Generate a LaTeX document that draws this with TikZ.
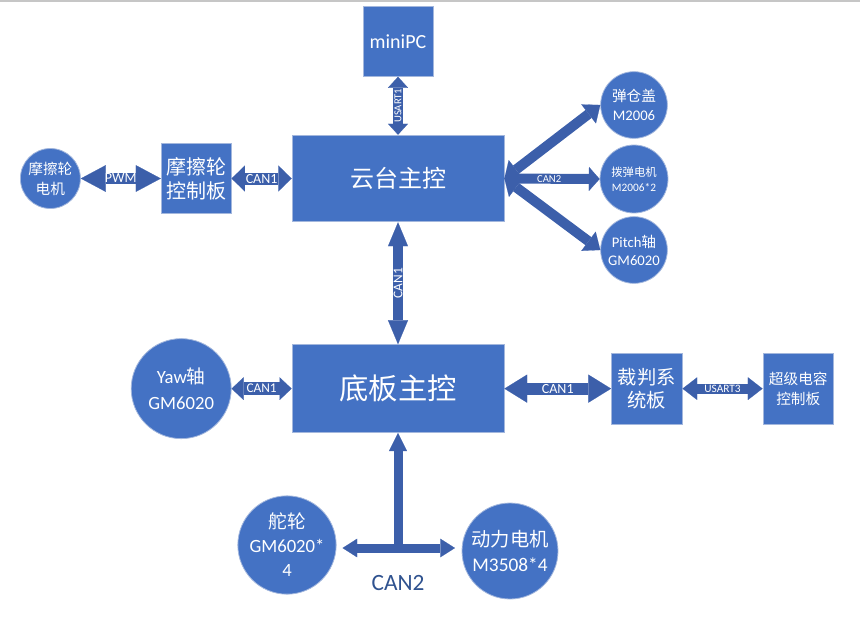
\documentclass[tikz,border=0pt]{standalone}
\usepackage{fontspec}
\setmainfont{Carlito}
\newfontfamily\cjk{Noto Sans CJK SC}
\usetikzlibrary{positioning,arrows.meta}
\definecolor{boxblue}{HTML}{4472C4}
\definecolor{boxedge}{HTML}{A3B7DD}
\definecolor{linkblue}{HTML}{3C5FAA}
\definecolor{labelblue}{HTML}{2F528F}

\begin{document}
\begin{tikzpicture}[x=0.75pt, y=-0.75pt,
  every node/.style={text=white, inner sep=0pt},
  blockbox/.style={rectangle, fill=boxblue, draw=boxedge, line width=0.6pt, align=center},
  motor/.style={circle, fill=boxblue, draw=boxedge, line width=0.6pt, align=center},
  link/.style n args={3}{draw=linkblue, line width=#1,
    arrows={Triangle[width=#2,length=#3,line width=0.1pt]-Triangle[width=#2,length=#3,line width=0.1pt]}},
  tag/.style={font=\fontsize{#1}{#1}\selectfont, text=white}]

    \useasboundingbox (0,0) rectangle (860,619);
    \draw[gray!45, line width=1.5pt] (0,1) -- (860,1);

    % Boards
    \node[blockbox, minimum width=159pt, minimum height=65pt, font=\cjk\fontsize{18}{18}\selectfont] (gimbal) at (398,178.5) {云台主控};
    \node[blockbox, minimum size=52.5pt, above=43.5pt of gimbal, font=\fontsize{15}{15}\selectfont] (minipc) {miniPC};
    \node[blockbox, minimum size=52.5pt, left=45pt of gimbal, font=\cjk\fontsize{15}{18}\selectfont] (fricboard) {摩擦轮\\控制板};
    \node[blockbox, minimum width=159pt, minimum height=66pt, below=91.5pt of gimbal, font=\cjk\fontsize{22}{22}\selectfont] (chassis) {底板主控};
    \node[blockbox, minimum size=53pt, right=80pt of chassis, font=\cjk\fontsize{14.5}{17}\selectfont] (referee) {裁判系\\统板};
    \node[blockbox, minimum size=53pt, right=60pt of referee, font=\cjk\fontsize{11}{15}\selectfont] (supercap) {超级电容\\控制板};

    % Motors
    \node[motor, minimum size=45pt, left=60pt of fricboard, font=\cjk\fontsize{11}{15}\selectfont] (fricmotor) {摩擦轮\\电机};
    \node[motor, minimum size=75pt, left=45pt of chassis, font=\fontsize{14}{19}\selectfont] (yaw) {Yaw{\cjk 轴}\\GM6020};
    \node[motor, minimum size=50pt, font=\fontsize{11}{14}\selectfont] (magazine) at (634,105) {{\cjk 弹仓盖}\\M2006};
    \node[motor, minimum size=51pt, font=\fontsize{8.5}{11}\selectfont] (dial) at (634,179) {{\cjk 拨弹电机}\\M2006*2};
    \node[motor, minimum size=50pt, font=\fontsize{11}{13.5}\selectfont] (pitch) at (634,250) {Pitch{\cjk 轴}\\GM6020};
    \node[motor, minimum size=73.5pt, font=\fontsize{14}{18}\selectfont] (steer) at (287,545) {{\cjk 舵轮}\\GM6020*\\4};
    \node[motor, minimum size=72pt, font=\fontsize{14.5}{19}\selectfont] (drive) at (510,551) {{\cjk 动力电机}\\M3508*4};

    \coordinate (hub) at (398,548);
    \node[text=labelblue, font=\fontsize{17.5}{17.5}\selectfont] (can2) at (398,583) {CAN2};

    % Links
    \draw[link={8.25pt}{20pt}{18.75pt}] (fricmotor) -- node[tag=10.5] {PWM} (fricboard);
    \draw[link={9pt}{19.5pt}{10pt}] (fricboard) -- node[tag=10.5] {CAN1} (gimbal);
    \draw[link={7.5pt}{15pt}{8.25pt}] (minipc) -- node[tag=8, rotate=90] {USART1} (gimbal);
    \draw[link={7.5pt}{15pt}{18pt}] (gimbal) -- node[tag=10, rotate=90] {CAN1} (chassis);
    \draw[link={7.5pt}{18pt}{11pt}] (gimbal.east) -- (magazine.west);
    \draw[link={7.5pt}{18pt}{8pt}] (gimbal.east) -- node[tag=8, pos=0.47] {CAN2} (dial.west);
    \draw[link={7.5pt}{18pt}{11pt}] (gimbal.east) -- (pitch.west);
    \draw[link={9.75pt}{17pt}{9pt}] (yaw) -- node[tag=10] {CAN1} (chassis);
    \draw[link={9pt}{21pt}{17pt}] (chassis) -- node[tag=10.5] {CAN1} (referee);
    \draw[link={7.5pt}{17pt}{11pt}] (referee) -- node[tag=8.5] {USART3} (supercap);
    \draw[draw=linkblue, line width=6.75pt, arrows={Triangle[width=13.5pt,length=13.5pt,line width=0.1pt]-}] (chassis) -- (hub);
    \draw[link={6.75pt}{14pt}{11pt}, shorten <=4.5pt, shorten >=5pt] (hub -| steer.east) -- (hub -| drive.west);

\end{tikzpicture}
\end{document}
